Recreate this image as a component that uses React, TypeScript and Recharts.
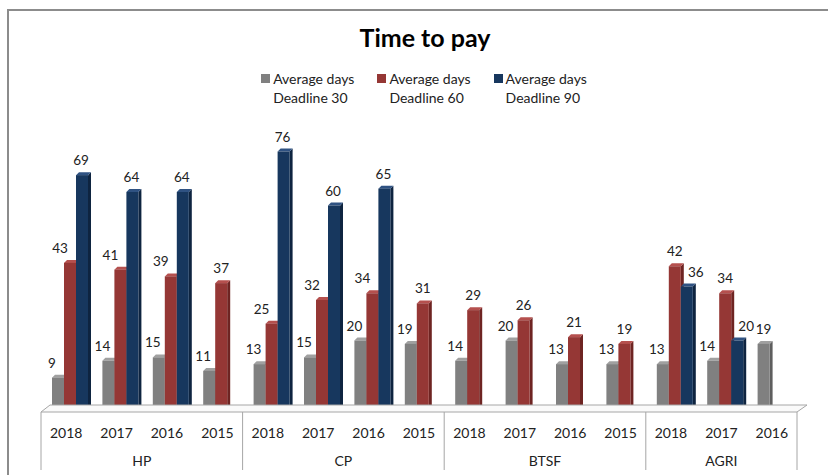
import { BarChart, Bar, XAxis, YAxis, LabelList } from 'recharts';

const groups = ['HP', 'CP', 'BTSF', 'AGRI'];
const groupYears = [
  ['2018', '2017', '2016', '2015'],
  ['2018', '2017', '2016', '2015'],
  ['2018', '2017', '2016', '2015'],
  ['2018', '2017', '2016'],
];
const deadline30 = [9, 14, 15, 11, 13, 15, 20, 19, 14, 20, 13, 13, 13, 14, 19];
const deadline60 = [43, 41, 39, 37, 25, 32, 34, 31, 29, 26, 21, 19, 42, 34, null];
const deadline90 = [69, 64, 64, null, 76, 60, 65, null, null, null, null, null, 36, 20, null];

const seriesNames = ['Average days Deadline 30', 'Average days Deadline 60', 'Average days Deadline 90'];
const colors = [
  { front: '#808080', side: '#5e5e5e', top: '#a0a0a0' },
  { front: '#953735', side: '#6e2422', top: '#b5504e' },
  { front: '#17375e', side: '#0e2440', top: '#2f5282' },
];

// flatten groups into one row per bar cluster
const rows: any[] = [];
groups.forEach((g, gi) => {
  groupYears[gi].forEach((yr, yi) => {
    const i = rows.length;
    rows.push({
      key: `${g}-${yr}`,
      year: yr,
      group: g,
      first: yi === 0,
      count: groupYears[gi].length,
      d30: deadline30[i],
      d60: deadline60[i],
      d90: deadline90[i],
    });
  });
});

const W = 828;
const H = 475;
const LEFT = 41;
const RIGHT = 31;
const SLOT = (W - LEFT - RIGHT) / rows.length;
const FONT = 'Lato, "Open Sans", sans-serif';
const DEPTH = 3;
const SHIFT = 4;

function make3D(c: { front: string; side: string; top: string }) {
  return (props: any) => {
    const { x, y, width, height } = props;
    if (height == null || height <= 0) return null;
    const fx = x + SHIFT;
    return (
      <g>
        <polygon
          points={`${fx + width},${y} ${fx + width + DEPTH},${y - DEPTH} ${fx + width + DEPTH},${y + height - DEPTH} ${fx + width},${y + height}`}
          fill={c.side}
        />
        <polygon
          points={`${fx},${y} ${fx + DEPTH},${y - DEPTH} ${fx + width + DEPTH},${y - DEPTH} ${fx + width},${y}`}
          fill={c.top}
        />
        <rect x={fx} y={y} width={width} height={height} fill={c.front} />
      </g>
    );
  };
}

// excel nudges labels sideways so neighbours don't collide
function labelShift(series: string, row: any) {
  if (!row) return 0;
  if (series === 'd30') return row.d60 != null ? -6 : 0;
  if (series === 'd60') return row.d90 != null && row.d90 > row.d60 ? -10 : 0;
  return row.d60 != null && row.d90 < row.d60 ? 9 : -1;
}

function makeLabel(series: string) {
  return (props: any) => {
    const { x, y, width, value } = props;
    if (value == null) return null;
    const idx = Math.floor((x - LEFT) / SLOT);
    const dx = labelShift(series, rows[idx]);
    return (
      <text
        x={x + SHIFT + width / 2 + dx}
        y={y - 10}
        textAnchor="middle"
        fontFamily={FONT}
        fontSize={13.5}
        fill="#222"
      >
        {value}
      </text>
    );
  };
}

function CategoryTick(props: any) {
  const { x, y, payload, index } = props;
  const row = rows[index];
  if (!row) return null;
  const half = payload.offset || SLOT / 2;
  const left = x - half;
  const last = index === rows.length - 1;
  const right = left + half * 2 * rows.length;
  return (
    <g>
      {index === 0 && (
        <polygon
          points={`${left},${y + 4} ${left + 9},${y - 3} ${right + 10},${y - 3} ${right},${y + 4}`}
          fill="#fafafa"
          stroke="#a6a6a6"
          strokeWidth={1}
        />
      )}
      <text x={x} y={y + 30} textAnchor="middle" fontFamily={FONT} fontSize={14} fill="#222">
        {row.year}
      </text>
      {row.first && (
        <>
          <line x1={left} y1={y + 4} x2={left} y2={y + 62} stroke="#a6a6a6" />
          <text
            x={left + half * row.count}
            y={y + 58}
            textAnchor="middle"
            fontFamily={FONT}
            fontSize={14}
            fill="#222"
          >
            {row.group}
          </text>
        </>
      )}
      {last && <line x1={x + half} y1={y + 4} x2={x + half} y2={y + 62} stroke="#a6a6a6" />}
    </g>
  );
}

function LegendBlock() {
  return (
    <div
      style={{
        position: 'absolute',
        top: 69,
        left: 10,
        width: W,
        display: 'flex',
        justifyContent: 'center',
        gap: 23,
        fontFamily: FONT,
        fontSize: 14,
        color: '#222',
      }}
    >
      {seriesNames.map((n, i) => (
        <div key={n} style={{ display: 'flex', alignItems: 'flex-start' }}>
          <span
            style={{
              width: 9,
              height: 9,
              background: colors[i].front,
              marginTop: 5,
              marginRight: 3,
              display: 'inline-block',
            }}
          />
          <div style={{ textAlign: 'left', lineHeight: '19px' }}>
            Average days
            <br />
            {n.replace('Average days ', '')}
          </div>
        </div>
      ))}
    </div>
  );
}

export default function App() {
  return (
    <div style={{ position: 'absolute', left: 0, top: 0, width: W, height: H, background: '#fff', overflow: 'hidden' }}>
      <div
        style={{
          position: 'absolute',
          left: 7,
          top: 9,
          width: W,
          height: H,
          borderTop: '2px solid #8c8c8c',
          borderLeft: '2px solid #8c8c8c',
        }}
      />
      <div
        style={{
          position: 'absolute',
          top: 22,
          left: 11,
          width: W,
          textAlign: 'center',
          fontFamily: FONT,
          fontWeight: 700,
          fontSize: 25,
          color: '#000',
        }}
      >
        Time to pay
      </div>
      <LegendBlock />
      <div style={{ position: 'absolute', left: 0, top: 0 }}>
        <BarChart
          width={W}
          height={H}
          data={rows}
          margin={{ top: 138, right: RIGHT, bottom: 7, left: LEFT }}
          barGap={0}
          barSize={12}
        >
          <YAxis hide domain={[0, 80]} />
          <XAxis
            dataKey="key"
            height={60}
            axisLine={false}
            tickLine={false}
            tickSize={0}
            tickMargin={0}
            interval={0}
            tick={<CategoryTick />}
          />
          <Bar dataKey="d30" name={seriesNames[0]} shape={make3D(colors[0])} isAnimationActive={false}>
            <LabelList dataKey="d30" content={makeLabel('d30')} />
          </Bar>
          <Bar dataKey="d60" name={seriesNames[1]} shape={make3D(colors[1])} isAnimationActive={false}>
            <LabelList dataKey="d60" content={makeLabel('d60')} />
          </Bar>
          <Bar dataKey="d90" name={seriesNames[2]} shape={make3D(colors[2])} isAnimationActive={false}>
            <LabelList dataKey="d90" content={makeLabel('d90')} />
          </Bar>
        </BarChart>
      </div>
    </div>
  );
}
